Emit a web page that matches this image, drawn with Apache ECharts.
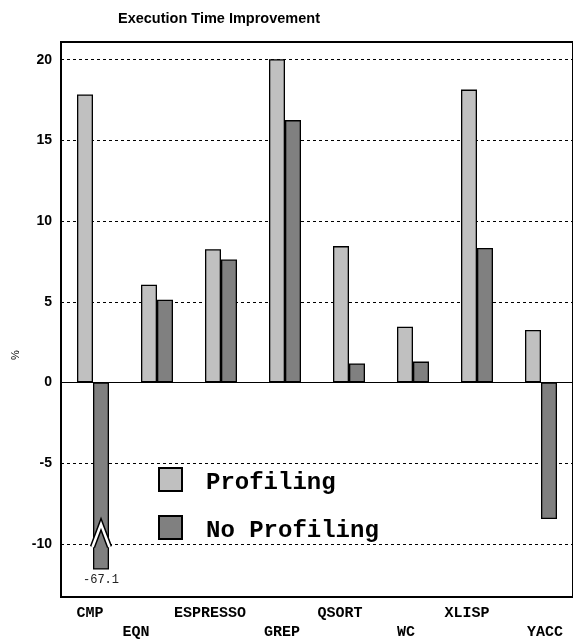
<!DOCTYPE html>
<html>
<head>
<meta charset="utf-8">
<script src="https://cdn.jsdelivr.net/npm/echarts@6/dist/echarts.min.js"></script>
<style>
  html, body { margin: 0; padding: 0; background: #fff; }
  #chart { width: 573px; height: 640px; }
</style>
</head>
<body>
<div id="chart"></div>
<script>
// data (percent improvement)
var benchmarks = ['CMP', 'EQN', 'ESPRESSO', 'GREP', 'QSORT', 'WC', 'XLISP', 'YACC'];
var profiling = [17.85, 6.05, 8.25, 20.03, 8.45, 3.45, 18.15, 3.25];
var noProfiling = [-67.1, 5.13, 7.62, 16.26, 1.18, 1.29, 8.33, -8.47];

// axis range of the plot
var yMin = -13.3;
var yMax = 21.1;
// an off-scale bar is cut off here and gets its true value as label
var cutAt = -11.6;

// the labels under the axis are not quite centred on their groups
var labelShift = [-3, -21, -11, -3, -9, -7, -10, 4];

var mono = 'Liberation Mono, Courier New, monospace';

var rich = {};
labelShift.forEach(function (s, i) {
  rich['r' + i] = {
    fontFamily: mono,
    fontWeight: 'bold',
    fontSize: 15,
    color: '#000',
    padding: [i % 2 ? 19 : 0, s < 0 ? -2 * s : 0, 0, s > 0 ? 2 * s : 0]
  };
});

var noProfData = noProfiling.map(function (v) {
  if (v >= yMin) return v;
  return {
    value: cutAt,
    label: {
      show: true,
      position: 'bottom',
      distance: 4,
      formatter: String(v),
      fontFamily: mono,
      fontSize: 12,
      color: '#222'
    }
  };
});

var chartDom = document.getElementById('chart');
var myChart = echarts.init(chartDom);

var option = {
  animation: false,
  title: {
    text: 'Execution Time Improvement',
    left: 118,
    top: 11,
    padding: 0,
    textStyle: { fontFamily: 'Liberation Sans, Arial', fontWeight: 'bold', fontSize: 14.5, color: '#000' }
  },
  legend: {
    orient: 'vertical',
    left: 158,
    top: 467,
    padding: 0,
    itemWidth: 23,
    itemHeight: 23,
    itemGap: 20,
    icon: 'rect',
    formatter: function (name) { return '{t|' + name + '}'; },
    textStyle: {
      rich: {
        t: { fontFamily: mono, fontWeight: 'bold', fontSize: 24, color: '#000', padding: [7, 0, 0, 19] }
      }
    }
  },
  grid: {
    left: 61,
    top: 42,
    right: -1,
    bottom: 43,
    show: true,
    borderColor: '#000',
    borderWidth: 2,
    containLabel: false
  },
  xAxis: {
    type: 'category',
    data: benchmarks,
    axisLine: { show: false },
    axisTick: { show: false },
    axisLabel: {
      interval: 0,
      margin: 9,
      formatter: function (v, i) { return '{r' + i + '|' + v + '}'; },
      rich: rich
    }
  },
  yAxis: {
    type: 'value',
    min: yMin,
    max: yMax,
    splitNumber: 7,
    axisLine: { show: false },
    axisTick: { show: false },
    axisLabel: {
      showMinLabel: false,
      showMaxLabel: false,
      margin: 9,
      fontFamily: 'Liberation Sans, Arial',
      fontWeight: 'bold',
      fontSize: 14,
      color: '#000'
    },
    splitLine: { lineStyle: { color: '#000', width: 1, type: [3, 3] } }
  },
  series: [
    {
      name: 'Profiling',
      type: 'bar',
      data: profiling,
      barWidth: '25%',
      barGap: '0%',
      itemStyle: { color: '#c0c0c0', borderColor: '#000', borderWidth: 1.3 },
      markLine: {
        silent: true,
        symbol: 'none',
        label: { show: false },
        lineStyle: { color: '#000', width: 1, type: 'solid' },
        data: [{ yAxis: 0 }]
      }
    },
    {
      name: 'No Profiling',
      type: 'bar',
      data: noProfData,
      barWidth: '25%',
      barGap: '0%',
      itemStyle: { color: '#808080', borderColor: '#000', borderWidth: 1.3 }
    }
  ]
};

option && myChart.setOption(option);

// break mark on the cut bar, plus the "%" axis name
var band = (573 + 1 - 61) / benchmarks.length;
var barW = band / 4;
var marks = [];
noProfiling.forEach(function (v, i) {
  if (v >= yMin) return;
  var cx = myChart.convertToPixel({ gridIndex: 0 }, [i, 0])[0] + barW / 2;
  var side = myChart.convertToPixel({ gridIndex: 0 }, [i, -10.2])[1];
  var apex = myChart.convertToPixel({ gridIndex: 0 }, [i, -8.8])[1];
  var pts = [[cx - barW / 2 - 0.5, side], [cx, apex], [cx + barW / 2 + 0.5, side]];
  marks.push({ type: 'polyline', z: 100, shape: { points: pts }, style: { stroke: '#000', lineWidth: 5.5, fill: null } });
  marks.push({ type: 'polyline', z: 101, shape: { points: pts }, style: { stroke: '#fff', lineWidth: 2.5, fill: null } });
});
marks.push({
  type: 'text',
  x: 16,
  y: 355,
  rotation: Math.PI / 2,
  style: { text: '%', fontFamily: 'Liberation Sans, Arial', fontSize: 11, fill: '#000', align: 'center', verticalAlign: 'middle' }
});
myChart.setOption({ graphic: marks });
</script>
</body>
</html>
